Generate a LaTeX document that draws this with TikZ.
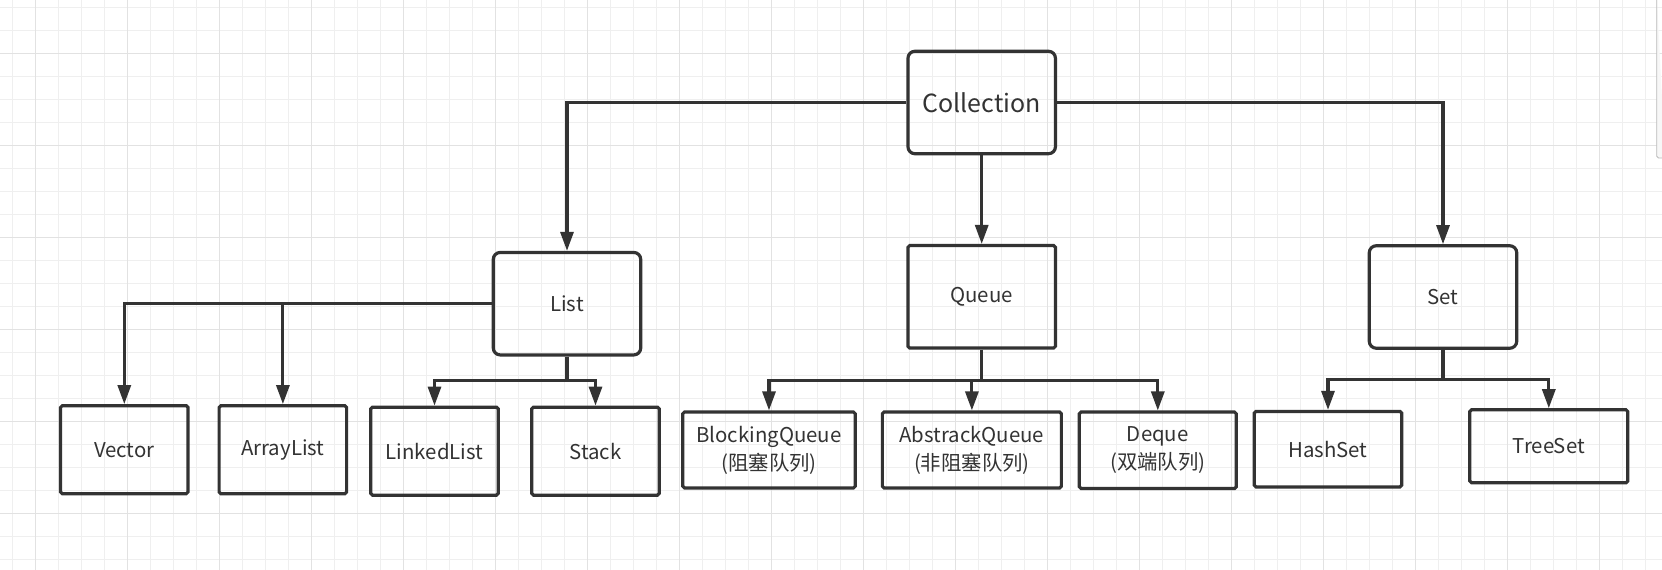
\documentclass[tikz,border=0pt]{standalone}
\usepackage{fontspec}
\setmainfont{Noto Sans CJK SC}
\usetikzlibrary{arrows.meta,calc,positioning}
\definecolor{inkgray}{RGB}{51,51,51}
\definecolor{gridlight}{RGB}{239,239,239}
\definecolor{griddark}{RGB}{226,226,226}

\begin{document}
\begin{tikzpicture}[font=\fontsize{11.6}{16}\selectfont,
      cls/.style={draw=inkgray,line width=1.8pt,text=inkgray,align=center,
        minimum width=2.55cm,minimum height=1.76cm,inner sep=1pt},
      top/.style={cls,rounded corners=4pt,minimum width=2.95cm,minimum height=2.05cm},
      a/.style={draw=inkgray,line width=1.75pt,-{Triangle[length=.38cm,width=.26cm]}},
      l/.style={draw=inkgray,line width=1.75pt},
      gminor/.style={gridlight,line width=.45pt},
      gmajor/.style={griddark,line width=.5pt}]
      \useasboundingbox (0,0) rectangle (33.24,11.4);
      % background grid
      \fill[white] (0,0) rectangle (33.24,11.4);
      \foreach \gx in {0,...,72} \draw[gminor] ({.246+.46*\gx},0) -- ++(0,11.4);
      \foreach \gy in {0,...,24} \draw[gminor] (0,{11.254-.46*\gy}) -- ++(33.24,0);
      \foreach \gx in {0,...,17} \draw[gmajor] ({.706+1.84*\gx},0) -- ++(0,11.4);
      \foreach \gy in {0,...,5} \draw[gmajor] (0,{10.334-1.84*\gy}) -- ++(33.24,0);
      \draw[gray!55,fill=gray!6,line width=.5pt,rounded corners=1pt]
        (33.3,8.24) -- (33.134,8.24) -- (33.134,11.5);
      % interfaces
      \node[top,font=\fontsize{14.2}{18}\selectfont] (coll) at (19.634,9.35) {Collection};
      \node[top] (list) at (11.34,5.326) {List};
      \node[top,rounded corners=1pt] (queue) at (19.634,5.464) {Queue};
      \node[top] (set) at (28.86,5.46) {Set};
      % implementations
      \node[cls,rounded corners=1pt] (vec) at (2.486,2.406) {Vector};
      \node[cls,rounded corners=1pt] (alist) at (5.658,2.406) {ArrayList};
      \node[cls,rounded corners=1pt] (llist) at (8.69,2.376) {LinkedList};
      \node[cls,rounded corners=1pt] (stack) at (11.91,2.376) {Stack};
      \node[cls,rounded corners=1pt,minimum width=3.45cm,minimum height=1.52cm] (bq) at (15.38,2.40) {BlockingQueue\\(阻塞队列)};
      \node[cls,rounded corners=1pt,minimum width=3.58cm,minimum height=1.52cm] (aq) at (19.438,2.40) {AbstrackQueue\\(非阻塞队列)};
      \node[cls,rounded corners=1pt,minimum width=3.14cm,minimum height=1.53cm] (deq) at (23.156,2.394) {Deque\\(双端队列)};
      \node[cls,rounded corners=1pt,minimum width=2.95cm,minimum height=1.51cm] (hset) at (26.56,2.416) {HashSet};
      \node[cls,rounded corners=1pt,minimum width=3.16cm,minimum height=1.46cm] (tset) at (30.976,2.474) {TreeSet};
      % Collection -> List / Queue / Set
      \draw[a] (coll.west) -| (list.north);
      \draw[a] (coll) -- (queue);
      \draw[a] (coll.east) -| (set.north);
      % List branch
      \draw[a] (list.west) -| (vec.north);
      \draw[a] (alist.north |- list.west) -- (alist.north);
      \coordinate (ljoin) at ($(list.south)+(0,-.476)$);
      \draw[l] (list.south) -- (ljoin);
      \draw[a] (ljoin) -| (llist.north);
      \draw[a] (ljoin) -| (stack.north);
      % Queue branch
      \coordinate (qjoin) at ($(queue.south)+(0,-.624)$);
      \draw[l] (queue.south) -- (qjoin);
      \draw[a] (qjoin) -| (bq.north);
      \draw[a] (qjoin -| aq.north) -- (aq.north);
      \draw[a] (qjoin) -| (deq.north);
      % Set branch
      \coordinate (sjoin) at ($(set.south)+(0,-.6)$);
      \draw[l] (set.south) -- (sjoin);
      \draw[a] (sjoin) -| (hset.north);
      \draw[a] (sjoin) -| (tset.north);
    \end{tikzpicture}
\end{document}
